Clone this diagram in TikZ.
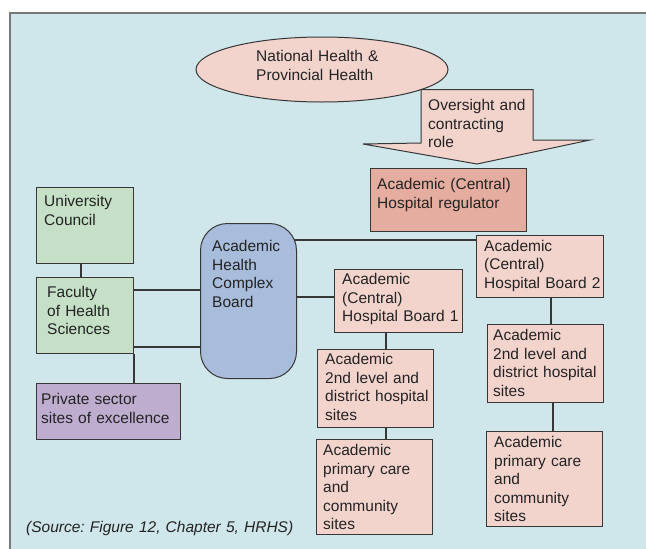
\documentclass[tikz,border=0pt]{standalone}
\usepackage{fontspec}
\setmainfont{Liberation Sans}
\usetikzlibrary{shapes.geometric,calc,backgrounds}
\frenchspacing
\definecolor{bgc}{RGB}{207,230,235}
\definecolor{pinkc}{RGB}{242,212,205}
\definecolor{regc}{RGB}{229,172,160}
\definecolor{greenc}{RGB}{197,224,199}
\definecolor{bluec}{RGB}{167,189,219}
\definecolor{purplec}{RGB}{191,173,208}
\definecolor{linec}{RGB}{55,55,55}
\definecolor{txtc}{RGB}{35,35,35}
\definecolor{panelc}{RGB}{120,120,120}
\begin{document}
\begin{tikzpicture}[x=1pt,y=-1pt,
  box/.style={draw=linec, line width=1pt, inner sep=0pt, anchor=north west},
  lbl/.style={anchor=base west, inner sep=0pt, text width=200pt, align=left, text=txtc, font=\fontsize{15.5pt}{18.5pt}\selectfont},
  conn/.style={draw=linec, line width=1.1pt}]
\useasboundingbox (0,0) rectangle (646,549);
\begin{scope}[on background layer]
\fill[white] (0,0) rectangle (646,549);
\fill[bgc] (10,13) rectangle (646,549);
\draw[panelc, line width=1.2pt] (10,549) -- (10,13) -- (646,13);
\end{scope}

% top ellipse and arrow
\node[draw=linec, line width=1pt, fill=pinkc, ellipse, minimum width=252pt, minimum height=65pt, inner sep=0pt] (nh) at (322,69.5) {};
\node[lbl] (nht) at (256,61.5) {National Health \&\\Provincial Health};
\filldraw[fill=pinkc, draw=linec, line width=1pt] (421,89.5) -- (533,89.5) -- (533,140) -- (590,140) -- (477,164) -- (363,144) -- (421,143) -- cycle;
\node[lbl] (ovt) at (428,110.5) {Oversight and\\contracting\\role};

% boxes
\node[box, fill=regc, minimum width=156pt, minimum height=63pt] (reg) at (370,168) {};
\node[lbl] (regt) at (377,189.5) {Academic (Central)\\Hospital regulator};

\node[box, fill=greenc, minimum width=97pt, minimum height=76pt] (uc) at (36,187) {};
\node[lbl] (uct) at (44,206.5) {University\\Council};

\node[box, fill=greenc, minimum width=97pt, minimum height=76pt] (fhs) at (36,277) {};
\node[lbl] (fhst) at (47,297.5) {Faculty\\of Health\\Sciences};

\node[box, fill=purplec, minimum width=144pt, minimum height=56pt] (pse) at (36,383) {};
\node[lbl] (pset) at (41,404.5) {Private sector\\sites of excellence};

\node[box, fill=bluec, rounded corners=27pt, minimum width=96pt, minimum height=155pt] (ahc) at (200,223) {};
\node[lbl] (ahct) at (212,251.5) {Academic\\Health\\Complex\\Board};

\node[box, fill=pinkc, minimum width=127pt, minimum height=62pt] (hb2) at (476,234.5) {};
\node[lbl] (hb2t) at (484,251) {Academic\\(Central)\\Hospital Board 2};

\node[box, fill=pinkc, minimum width=128pt, minimum height=63pt] (hb1) at (334,269) {};
\node[lbl] (hb1t) at (342,284.5) {Academic\\(Central)\\Hospital Board 1};

\node[box, fill=pinkc, minimum width=116pt, minimum height=78pt] (s21) at (317,349) {};
\node[lbl] (s21t) at (325,364.5) {Academic\\2nd level and\\district hospital\\sites};

\node[box, fill=pinkc, minimum width=116pt, minimum height=78pt] (s22) at (487,324) {};
\node[lbl] (s22t) at (493,340.5) {Academic\\2nd level and\\district hospital\\sites};

\node[box, fill=pinkc, minimum width=116pt, minimum height=95pt] (pc1) at (316,439) {};
\node[lbl] (pc1t) at (323,455.5) {Academic\\primary care\\and\\community\\sites};

\node[box, fill=pinkc, minimum width=116pt, minimum height=95pt] (pc2) at (486,431) {};
\node[lbl] (pc2t) at (494,447.5) {Academic\\primary care\\and\\community\\sites};

\node[lbl, text width=290pt, font=\fontsize{15.5pt}{18.5pt}\selectfont\itshape] (src) at (26,532.5) {(Source: Figure 12, Chapter 5, HRHS)};

% connectors
\coordinate (c1) at ($(uc.south west)+(45,0)$);
\coordinate (f1) at ($(fhs.north east)+(0,13)$);
\coordinate (f2) at ($(fhs.south east)+(0,-7)$);
\coordinate (a1) at ($(ahc.north)+(0,17)$);
\coordinate (a2) at ($(ahc.north)+(0,74)$);
\coordinate (b1) at ($(hb1.south west)+(52,0)$);
\coordinate (b2) at ($(s21.south west)+(69,0)$);
\coordinate (d1) at ($(hb2.south west)+(75,0)$);
\coordinate (d2) at ($(s22.south west)+(66,0)$);
\begin{scope}[on background layer]
\draw[conn] (c1) -- (c1 |- fhs.north);
\draw[conn] (f1) -- (f1 -| ahc.center);
\draw[conn] (f2) -- (f2 -| ahc.center);
\draw[conn] (fhs.south east) -- (fhs.south east |- pse.north);
\draw[conn] (a1) -- (a1 -| hb2.west);
\draw[conn] (a2) -- (a2 -| hb1.west);
\draw[conn] (b1) -- (b1 |- s21.north);
\draw[conn] (b2) -- (b2 |- pc1.north);
\draw[conn] (d1) -- (d1 |- s22.north);
\draw[conn] (d2) -- (d2 |- pc2.north);
\end{scope}
\end{tikzpicture}
\end{document}
